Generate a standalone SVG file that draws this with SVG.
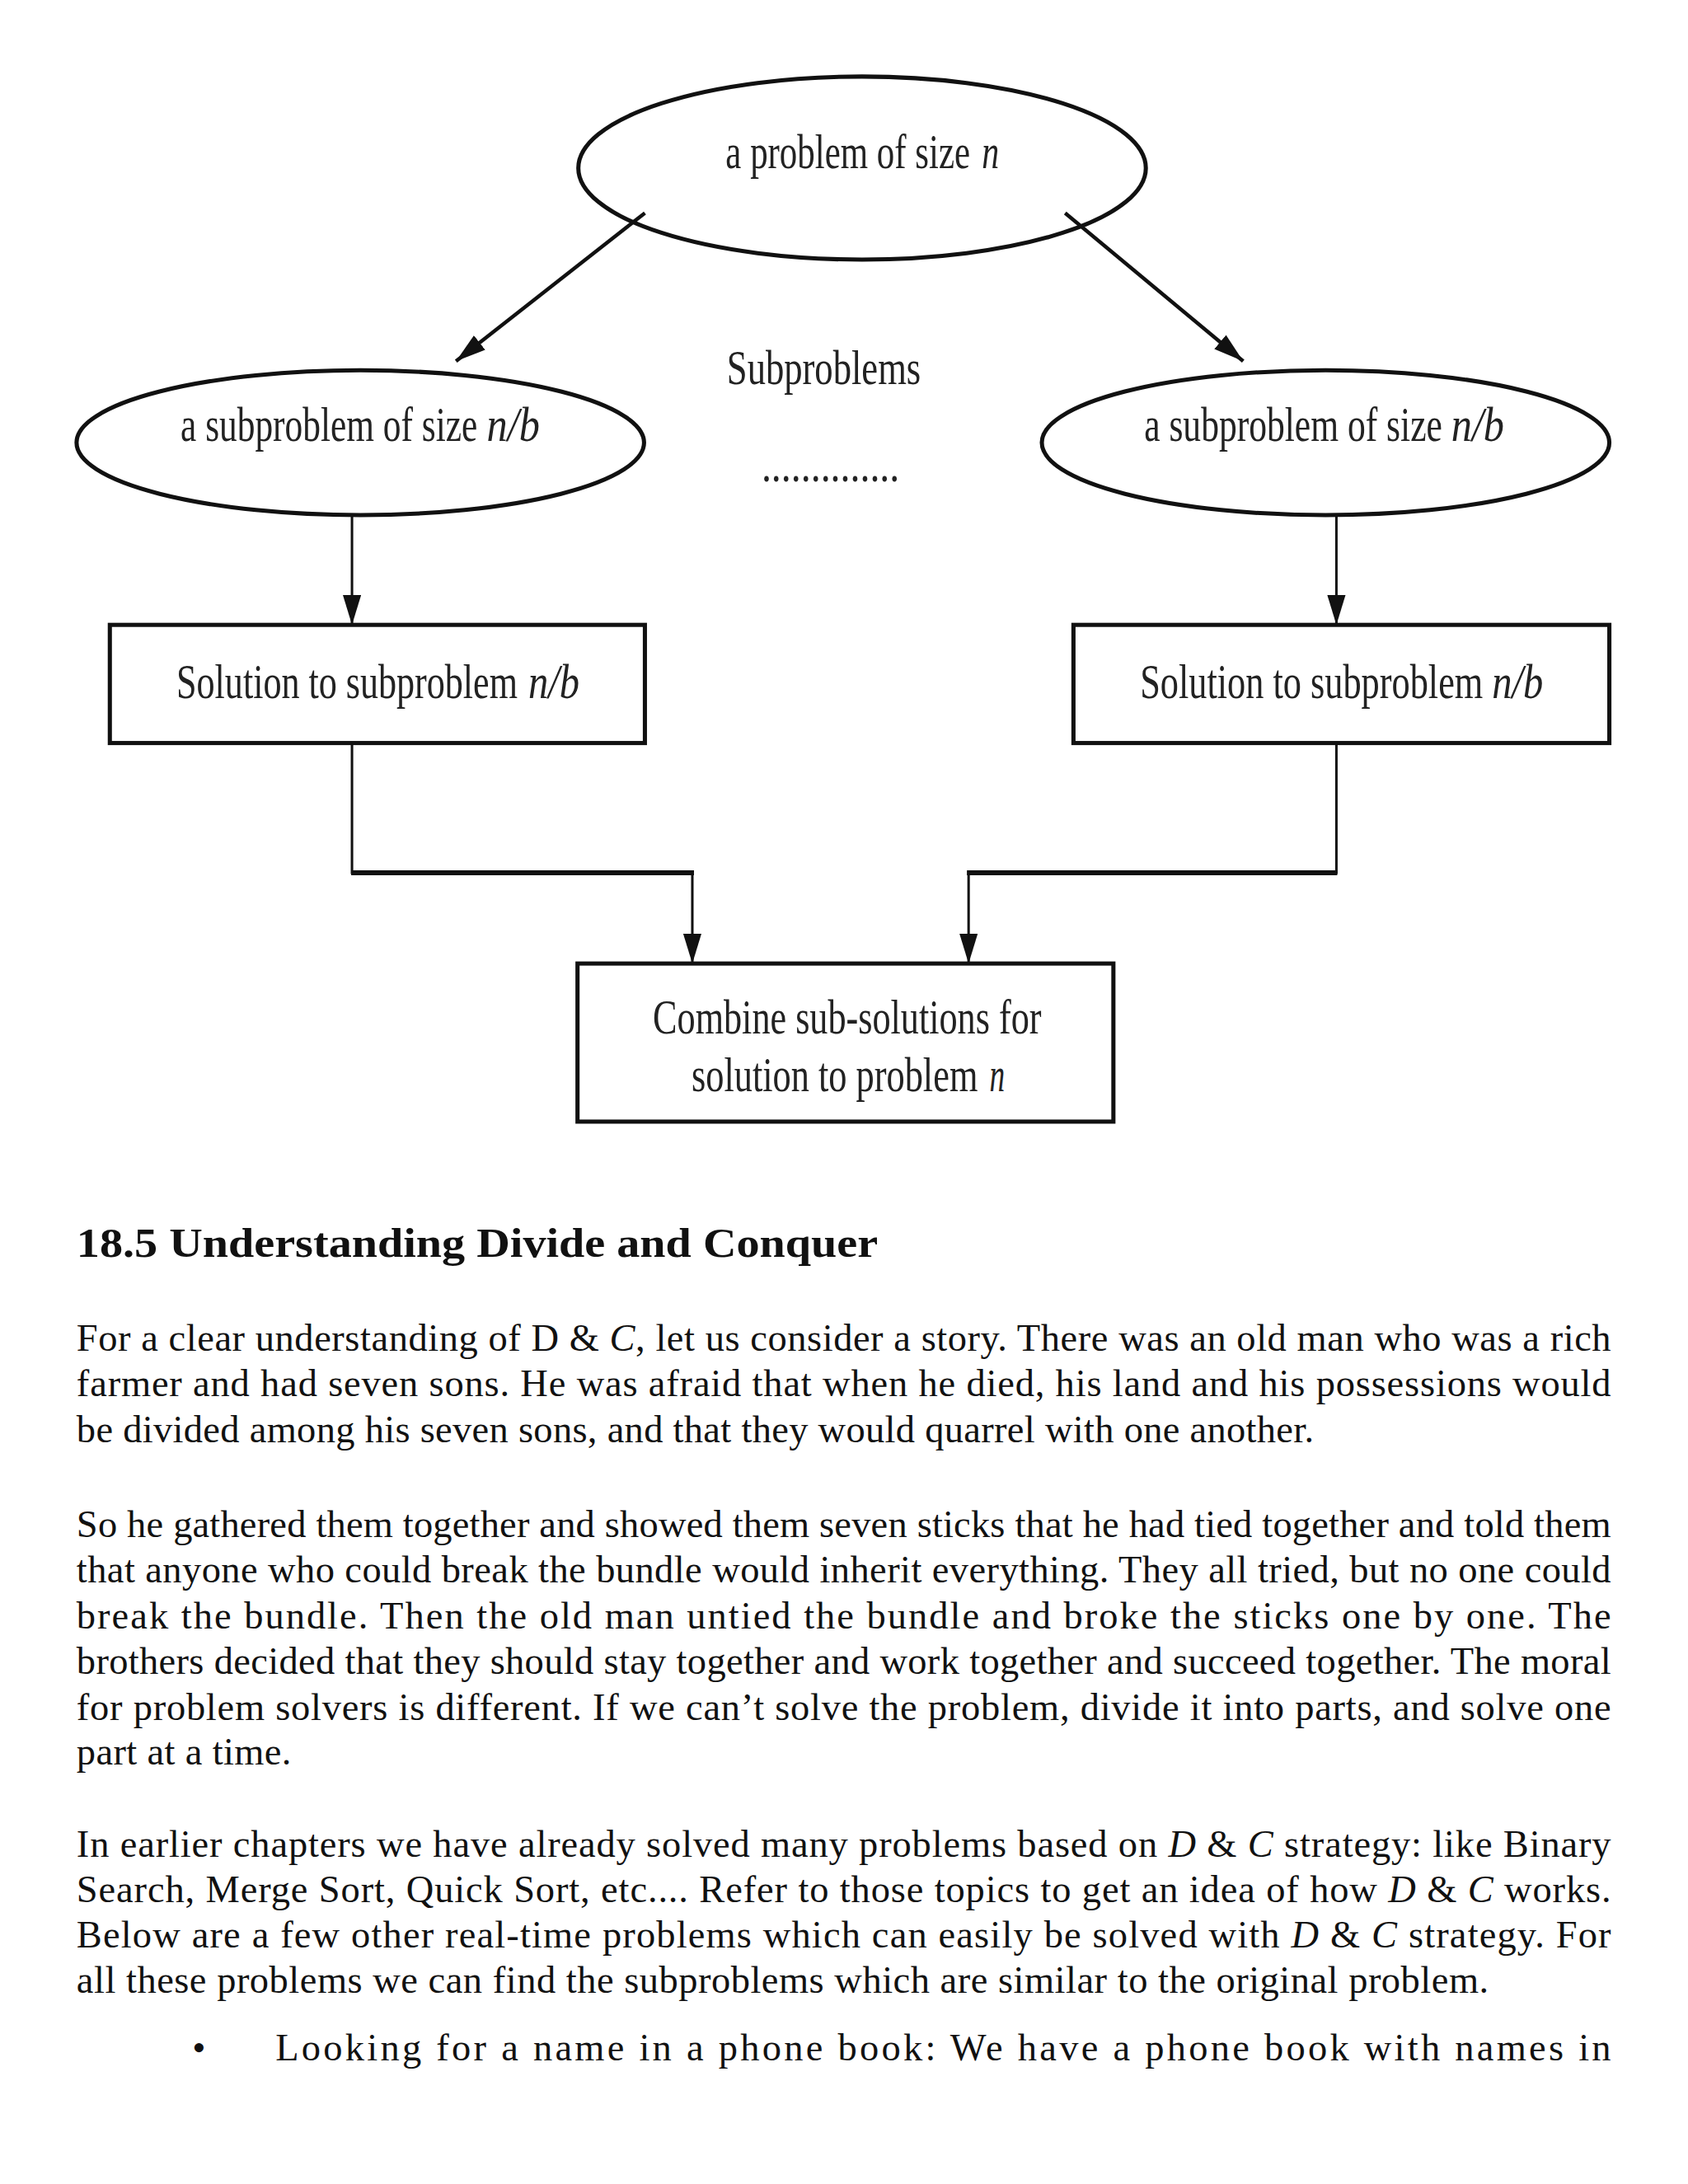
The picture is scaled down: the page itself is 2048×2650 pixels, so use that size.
<svg xmlns="http://www.w3.org/2000/svg" width="2048" height="2650" viewBox="0 0 2048 2650">
<style>
.shape{fill:#fff;stroke:#111;stroke-width:5}
.lbl{font-family:"Liberation Serif","Times New Roman",serif;font-size:58px;fill:#222}
.mid{text-anchor:middle}
.it{font-style:italic}
.con{fill:none;stroke:#111;stroke-width:3}
.body{font-family:"Liberation Serif","Times New Roman",serif;font-size:46px;fill:#111}
.head{font-family:"Liberation Serif","Times New Roman",serif;font-size:50px;font-weight:bold;fill:#111}
</style>
<defs>
<marker id="ah" markerUnits="userSpaceOnUse" markerWidth="36" markerHeight="22" refX="36" refY="11" orient="auto">
<path d="M0,0 L36,11 L0,22 z" fill="#111"/>
</marker>
</defs>
<rect width="2048" height="2650" fill="#fff"/>
<g transform="scale(1.0096)">
<g id="connectors">
<line class="con" x1="775" y1="256" x2="548" y2="434" style="stroke-width:4.5" marker-end="url(#ah)"/>
<line class="con" x1="1280" y1="256" x2="1494" y2="434" style="stroke-width:4.5" marker-end="url(#ah)"/>
<line class="con" x1="423" y1="619" x2="423" y2="751" marker-end="url(#ah)"/>
<line class="con" x1="1606" y1="619" x2="1606" y2="751" marker-end="url(#ah)"/>
<path class="con" d="M423,893 V1049 H832 V1158" marker-end="url(#ah)"/>
<path class="con" d="M1606,893 V1049 H1164 V1158" marker-end="url(#ah)"/>
<line class="con" x1="422" y1="1049" x2="834" y2="1049" style="stroke-width:6"/>
<line class="con" x1="1162" y1="1049" x2="1607" y2="1049" style="stroke-width:6"/>
</g>

<g id="node-problem">
<ellipse class="shape" cx="1036" cy="202" rx="341" ry="110" style="fill:none"/>
<text class="lbl" transform="translate(872,202) scale(0.74,1)" textLength="397" lengthAdjust="spacingAndGlyphs">a problem of size</text>
<text class="lbl it" transform="translate(1180,202) scale(0.74,1)" textLength="28" lengthAdjust="spacingAndGlyphs">n</text>
</g>

<g id="node-sub-left">
<ellipse class="shape" cx="433" cy="532" rx="341" ry="87"/>
<text class="lbl" transform="translate(217,530) scale(0.74,1)" textLength="482" lengthAdjust="spacingAndGlyphs">a subproblem of size</text>
<text class="lbl it" transform="translate(585,530) scale(0.74,1)" textLength="86" lengthAdjust="spacingAndGlyphs">n/b</text>
</g>

<g id="node-sub-right">
<ellipse class="shape" cx="1593" cy="532" rx="341" ry="87"/>
<text class="lbl" transform="translate(1375,530) scale(0.74,1)" textLength="484" lengthAdjust="spacingAndGlyphs">a subproblem of size</text>
<text class="lbl it" transform="translate(1744,530) scale(0.74,1)" textLength="86" lengthAdjust="spacingAndGlyphs">n/b</text>
</g>

<g id="label-subproblems">
<text class="lbl mid" transform="translate(990,462) scale(0.74,1)" textLength="315" lengthAdjust="spacingAndGlyphs">Subproblems</text>
<text class="lbl mid" transform="translate(998,578) scale(0.74,1)" textLength="224" lengthAdjust="spacingAndGlyphs">..............</text>
</g>

<g id="node-sol-left">
<rect class="shape" x="132" y="751" width="643" height="142"/>
<text class="lbl" transform="translate(212,839) scale(0.74,1)" textLength="554" lengthAdjust="spacingAndGlyphs">Solution to subproblem</text>
<text class="lbl it" transform="translate(635,839) scale(0.74,1)" textLength="83" lengthAdjust="spacingAndGlyphs">n/b</text>
</g>

<g id="node-sol-right">
<rect class="shape" x="1290" y="751" width="644" height="142"/>
<text class="lbl" transform="translate(1370,839) scale(0.74,1)" textLength="557" lengthAdjust="spacingAndGlyphs">Solution to subproblem</text>
<text class="lbl it" transform="translate(1793,839) scale(0.74,1)" textLength="83" lengthAdjust="spacingAndGlyphs">n/b</text>
</g>

<g id="node-combine">
<rect class="shape" x="694" y="1158" width="644" height="190"/>
<text class="lbl mid" transform="translate(1018,1242) scale(0.74,1)" textLength="631" lengthAdjust="spacingAndGlyphs">Combine sub-solutions for</text>
<text class="lbl" transform="translate(831,1311) scale(0.74,1)" textLength="465" lengthAdjust="spacingAndGlyphs">solution to problem</text>
<text class="lbl it" transform="translate(1189,1311) scale(0.74,1)" textLength="25" lengthAdjust="spacingAndGlyphs">n</text>
</g>

<g id="text-body">
<text class="head" x="92" y="1511" textLength="963" lengthAdjust="spacingAndGlyphs">18.5 Understanding Divide and Conquer</text>

<text class="body" x="92" y="1623" textLength="1844" lengthAdjust="spacing">For a clear understanding of D &amp; <tspan class="it">C</tspan>, let us consider a story. There was an old man who was a rich</text>
<text class="body" x="92" y="1678" textLength="1844" lengthAdjust="spacing">farmer and had seven sons. He was afraid that when he died, his land and his possessions would</text>
<text class="body" x="92" y="1733" textLength="1487" lengthAdjust="spacing">be divided among his seven sons, and that they would quarrel with one another.</text>

<text class="body" x="92" y="1847" textLength="1844" lengthAdjust="spacing">So he gathered them together and showed them seven sticks that he had tied together and told them</text>
<text class="body" x="92" y="1902" textLength="1844" lengthAdjust="spacing">that anyone who could break the bundle would inherit everything. They all tried, but no one could</text>
<text class="body" x="92" y="1957" textLength="1844" lengthAdjust="spacing">break the bundle. Then the old man untied the bundle and broke the sticks one by one. The</text>
<text class="body" x="92" y="2012" textLength="1844" lengthAdjust="spacing">brothers decided that they should stay together and work together and succeed together. The moral</text>
<text class="body" x="92" y="2067" textLength="1844" lengthAdjust="spacing">for problem solvers is different. If we can’t solve the problem, divide it into parts, and solve one</text>
<text class="body" x="92" y="2121" textLength="258" lengthAdjust="spacing">part at a time.</text>

<text class="body" x="92" y="2232" textLength="1844" lengthAdjust="spacing">In earlier chapters we have already solved many problems based on <tspan class="it">D</tspan> &amp; <tspan class="it">C</tspan> strategy: like Binary</text>
<text class="body" x="92" y="2286" textLength="1844" lengthAdjust="spacing">Search, Merge Sort, Quick Sort, etc.... Refer to those topics to get an idea of how <tspan class="it">D</tspan> &amp; <tspan class="it">C</tspan> works.</text>
<text class="body" x="92" y="2341" textLength="1844" lengthAdjust="spacing">Below are a few other real-time problems which can easily be solved with <tspan class="it">D</tspan> &amp; <tspan class="it">C</tspan> strategy. For</text>
<text class="body" x="92" y="2395" textLength="1697" lengthAdjust="spacing">all these problems we can find the subproblems which are similar to the original problem.</text>

<text class="body" x="231" y="2476">•</text>
<text class="body" x="331" y="2476" textLength="1605" lengthAdjust="spacing">Looking for a name in a phone book: We have a phone book with names in</text>
</g>
</g>
</svg>
